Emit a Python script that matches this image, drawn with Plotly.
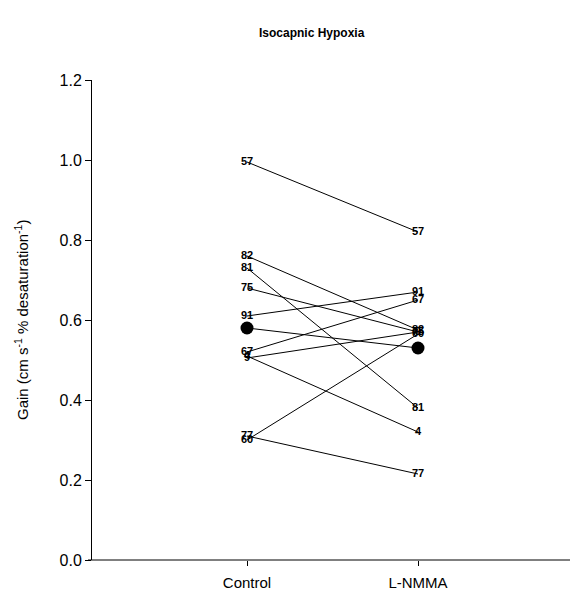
import plotly.graph_objects as go

conditions = ["Control", "L-NMMA"]
subjects = ["57", "82", "81", "75", "91", "67", "4", "9", "77", "60"]
control = [0.995, 0.76, 0.73, 0.68, 0.61, 0.52, 0.51, 0.505, 0.31, 0.30]
lnmma = [0.82, 0.575, 0.38, 0.57, 0.67, 0.65, 0.32, 0.57, 0.215, 0.565]
mean_values = [0.58, 0.53]
x_positions = [1, 2]

fig = go.Figure()

for s, c, l in zip(subjects, control, lnmma):
    fig.add_trace(go.Scatter(
        x=x_positions, y=[c, l], mode="lines",
        line=dict(color="black", width=1), showlegend=False, hoverinfo="skip"))

fig.add_trace(go.Scatter(
    x=x_positions, y=mean_values, mode="lines+markers",
    line=dict(color="black", width=1),
    marker=dict(color="black", size=13), showlegend=False))

for s, c, l in zip(subjects, control, lnmma):
    fig.add_trace(go.Scatter(
        x=x_positions, y=[c, l], mode="text", text=[s, s],
        textposition="middle center",
        textfont=dict(family="Arial, Liberation Sans", size=11, color="black", weight="bold"),
        showlegend=False, hoverinfo="skip"))

fig.update_layout(
    width=570, height=594,
    margin=dict(l=92, r=0, t=80, b=34),
    plot_bgcolor="white", paper_bgcolor="white",
    font=dict(family="Arial, Liberation Sans", color="black"),
    annotations=[
        dict(text="<b>Isocapnic Hypoxia</b>", x=(312 - 92) / 478, y=1 + (80 - 33) / 480,
             xref="paper", yref="paper", yanchor="middle",
             showarrow=False, font=dict(size=12, family="Arial, Liberation Sans", color="black")),
        dict(text="Gain (cm s<sup>-1</sup> % desaturation<sup>-1</sup>)",
             x=(21 - 92) / 478, y=0.5, xref="paper", yref="paper",
             xanchor="center", yanchor="middle", textangle=-90,
             showarrow=False, font=dict(size=15, family="Arial, Liberation Sans", color="black")),
    ],
    shapes=[dict(type="line", xref="paper", yref="paper", x0=-4 / 478, x1=1, y0=0, y1=0,
                 line=dict(color="black", width=1))],
    xaxis=dict(
        range=[1 - 155 / 171, 2 + 152 / 171],
        tickvals=x_positions, ticktext=conditions,
        showline=False,
        ticks="outside", ticklen=5, tickcolor="black",
        showgrid=False, zeroline=False, automargin=False,
        ticklabelstandoff=4,
        tickfont=dict(size=15)),
    yaxis=dict(
        range=[0, 1.2], tickvals=[0, 0.2, 0.4, 0.6, 0.8, 1.0, 1.2],
        tickformat=".1f",
        showline=True, linecolor="black", linewidth=1,
        ticks="outside", ticklen=6, tickcolor="black",
        showgrid=False, zeroline=False, automargin=False,
        tickfont=dict(size=16)),
)

fig.write_html("out.html", config={"displayModeBar": False},
               post_script="document.body.style.margin='0';")
